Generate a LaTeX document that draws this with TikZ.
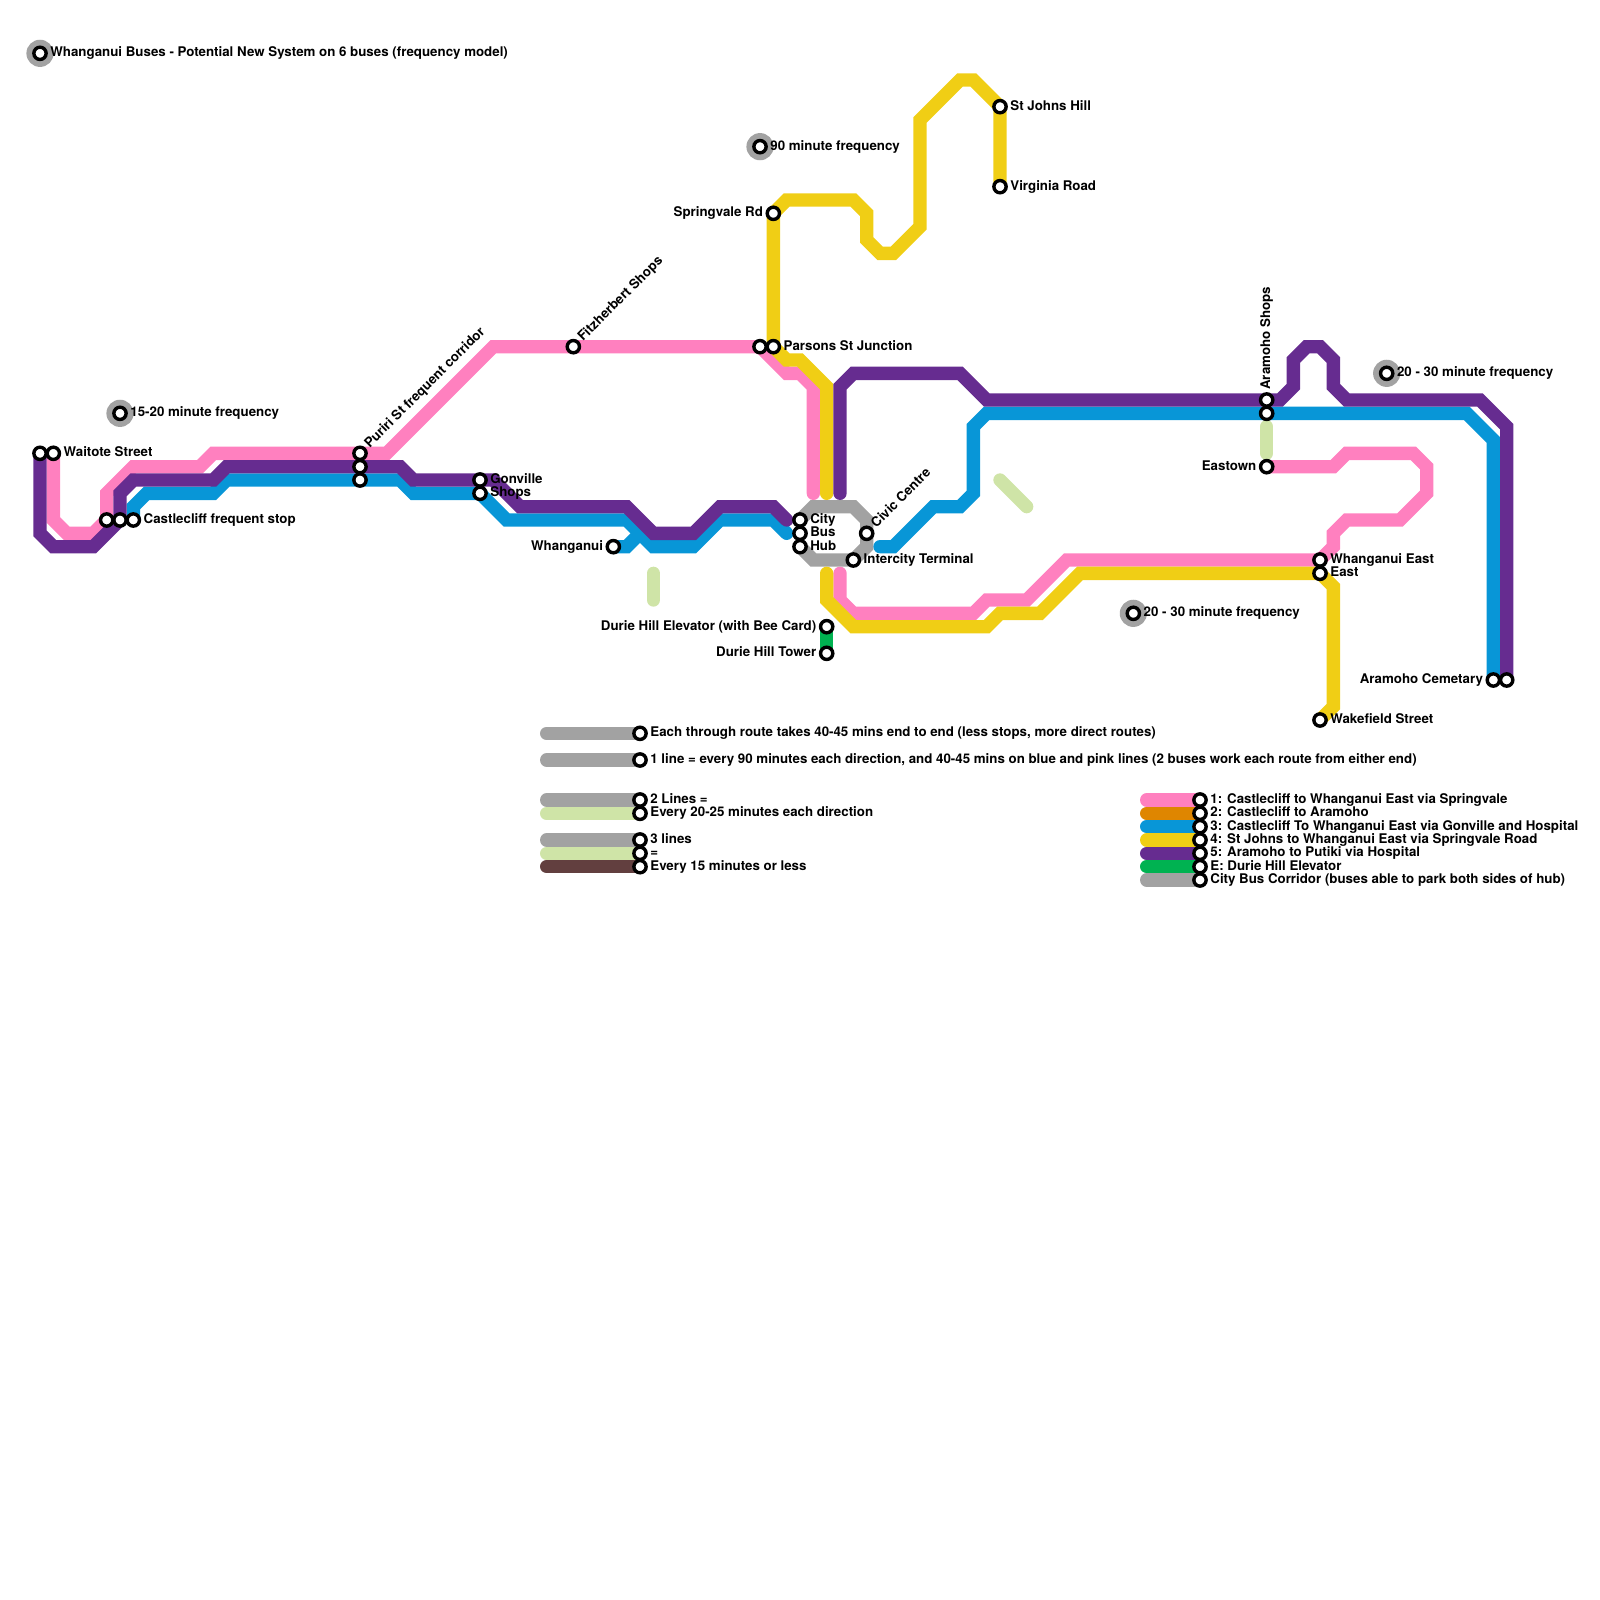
\documentclass[tikz,border=0pt]{standalone}
\usepackage{fontspec}
\setmainfont{TeX Gyre Heros}
\usepackage{tikz}
\definecolor{routepink}  {HTML}{FF80BF}
\definecolor{routeorange}{HTML}{DF8600}
\definecolor{routeblue}  {HTML}{0896D7}
\definecolor{routeyellow}{HTML}{F0CE15}
\definecolor{routepurple}{HTML}{662C90}
\definecolor{routegreen} {HTML}{00B251}
\definecolor{routegrey}  {HTML}{A2A2A2}
\definecolor{routelime}  {HTML}{CFE4A7}
\definecolor{routebrown} {HTML}{623F3F}
\tikzset{
  route/.style={line width=2.5mm, line cap=round, line join=miter},
  stn/.style={circle, draw=black, fill=white, line width=0.64mm, minimum size=2.3mm, inner sep=0pt},
  halo/.style={circle, fill=routegrey, minimum size=5.1mm, inner sep=0pt},
  txtr/.style={anchor=west, inner sep=0pt, text height=1.8mm, text depth=0.5mm, font=\fontsize{7.1}{8}\selectfont\bfseries},
  txtl/.style={anchor=east, inner sep=0pt, text height=1.8mm, text depth=0.5mm, font=\fontsize{7.1}{8}\selectfont\bfseries},
}

\begin{document}
\begin{tikzpicture}[x=2.5mm, y=-2.5mm]
  \useasboundingbox (0,0) rectangle (120,120);
  % stops
  \coordinate (title) at (3,4);
  \coordinate (waitoteb) at (3,34);
  \coordinate (waitote) at (4,34);
  \coordinate (castlea) at (8,39);
  \coordinate (castleb) at (9,39);
  \coordinate (castle) at (10,39);
  \coordinate (freqa) at (9,31);
  \coordinate (puriri) at (27,34);
  \coordinate (puririb) at (27,35);
  \coordinate (puriric) at (27,36);
  \coordinate (gonville) at (36,36);
  \coordinate (shops) at (36,37);
  \coordinate (fitz) at (43,26);
  \coordinate (parsonsb) at (57,26);
  \coordinate (parsons) at (58,26);
  \coordinate (springvale) at (58,16);
  \coordinate (freqb) at (57,11);
  \coordinate (stjohns) at (75,8);
  \coordinate (virginia) at (75,14);
  \coordinate (whanganui) at (46,41);
  \coordinate (city) at (60,39);
  \coordinate (bus) at (60,40);
  \coordinate (hub) at (60,41);
  \coordinate (civic) at (65,40);
  \coordinate (intercity) at (64,42);
  \coordinate (elevator) at (62,47);
  \coordinate (tower) at (62,49);
  \coordinate (freqc) at (85,46);
  \coordinate (freqd) at (104,28);
  \coordinate (aramoho) at (95,30);
  \coordinate (aramohob) at (95,31);
  \coordinate (eastown) at (95,35);
  \coordinate (east) at (99,42);
  \coordinate (eastb) at (99,43);
  \coordinate (wakefield) at (99,54);
  \coordinate (cemetaryb) at (112,51);
  \coordinate (cemetary) at (113,51);
  % legend stops
  \foreach \n/\y in {a/55, b/57, c/60, d/61, e/63, f/64, g/65}
    \coordinate (note\n) at (48,\y);
  \foreach \n/\y in {a/60, b/61, c/62, d/63, e/64, f/65, g/66}
    \coordinate (key\n) at (90,\y);
  % frequency halos
  \foreach \n in {title, freqa, freqb, freqc, freqd}
    \node[halo] (halo\n) at (\n) {};
  % city corridor
  \draw[route, routegrey] (city) -- (61,38) -- (64,38) -- (65,39) -- (65,41) -- (intercity) -- (61,42) -- (hub);
  % route 1
  \draw[route, routepink] (waitote) -- (4,39) -- (5,40) -- (7,40) -- (castlea) -- (8,37) -- (10,35) -- (15,35)
    -- (16,34) -- (29,34) -- (37,26) -- (parsonsb) -- (59,28) -- (60,28) -- (61,29) -- (61,37);
  \draw[route, routepink] (63,43) -- (63,45) -- (64,46) -- (73,46) -- (74,45) -- (77,45) -- (80,42) -- (east)
    -- (100,41) -- (100,40) -- (101,39) -- (105,39) -- (107,37) -- (107,35) -- (106,34) -- (101,34) -- (100,35) -- (eastown);
  % route 3
  \draw[route, routeblue] (castle) -- (10,38) -- (11,37) -- (16,37) -- (17,36) -- (30,36) -- (31,37) -- (shops)
    -- (38,39) -- (47,39) -- (49,41) -- (52,41) -- (54,39) -- (58,39) -- (59,40);
  \draw[route, routeblue] (whanganui) -- (47,41) -- (48,40);
  \draw[route, routeblue] (66,41) -- (67,41) -- (70,38) -- (72,38) -- (73,37) -- (73,32) -- (74,31) -- (110,31)
    -- (112,33) -- (cemetaryb);
  % route 4
  \draw[route, routeyellow] (virginia) -- (stjohns) -- (73,6) -- (72,6) -- (69,9) -- (69,17) -- (67,19) -- (66,19)
    -- (65,18) -- (65,16) -- (64,15) -- (59,15) -- (springvale) -- (parsons) -- (59,27) -- (60,27) -- (62,29) -- (62,37);
  \draw[route, routeyellow] (62,43) -- (62,45) -- (64,47) -- (74,47) -- (75,46) -- (78,46) -- (81,43) -- (eastb)
    -- (100,44) -- (100,53) -- (wakefield);
  % route 5
  \draw[route, routepurple] (waitoteb) -- (3,40) -- (4,41) -- (7,41) -- (castleb) -- (9,37) -- (10,36) -- (16,36)
    -- (17,35) -- (30,35) -- (31,36) -- (37,36) -- (39,38) -- (47,38) -- (49,40) -- (52,40) -- (54,38) -- (58,38) -- (59,39);
  \draw[route, routepurple] (63,37) -- (63,29) -- (64,28) -- (72,28) -- (74,30) -- (96,30) -- (97,29) -- (97,27)
    -- (98,26) -- (99,26) -- (100,27) -- (100,29) -- (101,30) -- (111,30) -- (113,32) -- (cemetary);
  % elevator
  \draw[route, routegreen] (elevator) -- (tower);
  % lime pieces
  \draw[route, routelime] (49,43) -- (49,45);
  \draw[route, routelime] (75,36) -- (77,38);
  \draw[route, routelime] (95,32) -- (95,34);
  % notes legend
  \draw[route, routegrey] (41,55) -- (notea);
  \draw[route, routegrey] (41,57) -- (noteb);
  \draw[route, routegrey] (41,60) -- (notec);
  \draw[route, routelime] (41,61) -- (noted);
  \draw[route, routegrey] (41,63) -- (notee);
  \draw[route, routelime] (41,64) -- (notef);
  \draw[route, routebrown] (41,65) -- (noteg);
  % route legend
  \foreach \n/\c in {a/routepink, b/routeorange, c/routeblue, d/routeyellow, e/routepurple, f/routegreen, g/routegrey}
    \draw[route, \c] (86,0 |- key\n) -- (key\n);
  % stop markers
  \foreach \n in {title, waitoteb, waitote, castlea, castleb, castle, freqa, puriri, puririb, puriric,
      gonville, shops, fitz, parsonsb, parsons, springvale, freqb, stjohns, virginia, whanganui,
      city, bus, hub, civic, intercity, elevator, tower, freqc, freqd, aramoho, aramohob, eastown,
      east, eastb, wakefield, cemetaryb, cemetary,
      notea, noteb, notec, noted, notee, notef, noteg, keya, keyb, keyc, keyd, keye, keyf, keyg}
    \node[stn] (stn\n) at (\n) {};
  % labels
  \node[txtr] (txttitle) at (3.75,4) {Whanganui Buses - Potential New System on 6 buses (frequency model)};
  \node[txtr] (txtwaitote) at (4.75,34) {Waitote Street};
  \node[txtr] (txtcastle) at (10.75,39) {Castlecliff frequent stop};
  \node[txtr] (txtfreqa) at (9.75,31) {15-20 minute frequency};
  \node[txtr, rotate=45] (txtpuriri) at (27.53,33.47) {Puriri St frequent corridor};
  \node[txtr] (txtgonville) at (36.75,36) {Gonville};
  \node[txtr] (txtshops) at (36.75,37) {Shops};
  \node[txtr, rotate=45] (txtfitz) at (43.53,25.47) {Fitzherbert Shops};
  \node[txtr] (txtparsons) at (58.75,26) {Parsons St Junction};
  \node[txtl] (txtspringvale) at (57.25,16) {Springvale Rd};
  \node[txtr] (txtfreqb) at (57.75,11) {90 minute frequency};
  \node[txtr] (txtstjohns) at (75.75,8) {St Johns Hill};
  \node[txtr] (txtvirginia) at (75.75,14) {Virginia Road};
  \node[txtl] (txtwhanganui) at (45.25,41) {Whanganui};
  \node[txtr] (txtcity) at (60.75,39) {City};
  \node[txtr] (txtbus) at (60.75,40) {Bus};
  \node[txtr] (txthub) at (60.75,41) {Hub};
  \node[txtr, rotate=45] (txtcivic) at (65.53,39.47) {Civic Centre};
  \node[txtr] (txtintercity) at (64.75,42) {Intercity Terminal};
  \node[txtl] (txtelevator) at (61.25,47) {Durie Hill Elevator (with Bee Card)};
  \node[txtl] (txttower) at (61.25,49) {Durie Hill Tower};
  \node[txtr] (txtfreqc) at (85.75,46) {20 - 30 minute frequency};
  \node[txtr] (txtfreqd) at (104.75,28) {20 - 30 minute frequency};
  \node[txtr, rotate=90] (txtaramoho) at (95,29.25) {Aramoho Shops};
  \node[txtl] (txteastown) at (94.25,35) {Eastown};
  \node[txtr] (txteast) at (99.75,42) {Whanganui East};
  \node[txtr] (txteastb) at (99.75,43) {East};
  \node[txtr] (txtwakefield) at (99.75,54) {Wakefield Street};
  \node[txtl] (txtcemetary) at (111.25,51) {Aramoho Cemetary};
  % legend text
  \node[txtr] (txtnotea) at (48.75,55) {Each through route takes 40-45 mins end to end (less stops, more direct routes)};
  \node[txtr] (txtnoteb) at (48.75,57) {1 line = every 90 minutes each direction, and 40-45 mins on blue and pink lines (2 buses work each route from either end)};
  \node[txtr] (txtnotec) at (48.75,60) {2 Lines =};
  \node[txtr] (txtnoted) at (48.75,61) {Every 20-25 minutes each direction};
  \node[txtr] (txtnotee) at (48.75,63) {3 lines};
  \node[txtr] (txtnotef) at (48.75,64) {=};
  \node[txtr] (txtnoteg) at (48.75,65) {Every 15 minutes or less};
  \node[txtr] (txtkeya) at (90.75,60) {1: Castlecliff to Whanganui East via Springvale};
  \node[txtr] (txtkeyb) at (90.75,61) {2: Castlecliff to Aramoho};
  \node[txtr] (txtkeyc) at (90.75,62) {3: Castlecliff To Whanganui East via Gonville and Hospital};
  \node[txtr] (txtkeyd) at (90.75,63) {4: St Johns to Whanganui East via Springvale Road};
  \node[txtr] (txtkeye) at (90.75,64) {5: Aramoho to Putiki via Hospital};
  \node[txtr] (txtkeyf) at (90.75,65) {E: Durie Hill Elevator};
  \node[txtr] (txtkeyg) at (90.75,66) {City Bus Corridor (buses able to park both sides of hub)};
\end{tikzpicture}
\end{document}
